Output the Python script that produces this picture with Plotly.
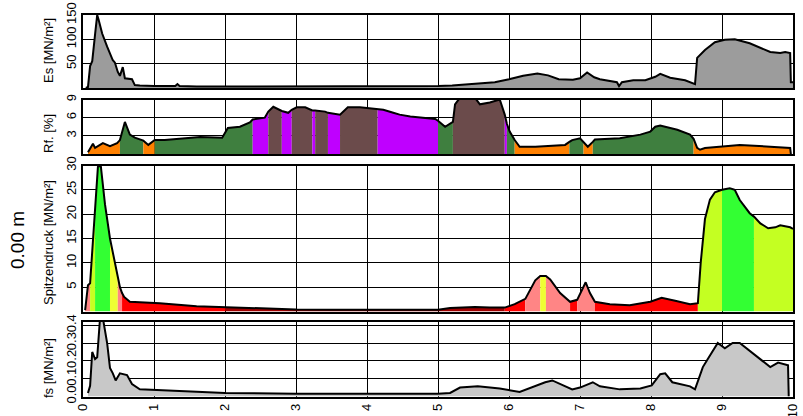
import plotly.graph_objects as go

# ---- sounding data (depth in m) ----
es_depth = [0.04, 0.07, 0.10, 0.13, 0.17, 0.20, 0.22, 0.27, 0.34, 0.42, 0.45, 0.49, 0.52, 0.56, 0.59, 0.69, 0.73,
            0.80, 1.00, 1.30, 1.33, 1.36, 1.60, 2.00, 2.50, 3.00, 3.50, 4.00, 4.50, 5.00, 5.20, 5.50, 5.80, 6.00,
            6.20, 6.40, 6.55, 6.70, 6.90, 7.00, 7.10, 7.20, 7.28, 7.52, 7.55, 7.59, 7.75, 7.92, 8.06, 8.13, 8.27,
            8.48, 8.59, 8.62, 8.65, 8.76, 8.90, 9.04, 9.18, 9.39, 9.68, 9.82, 9.89, 9.96, 9.97, 10.0]
es_value = [0, 2, 45, 55, 110, 150, 140, 112, 85, 57, 52, 33, 25, 43, 20, 18, 6,
            5, 4, 4, 8, 4, 3, 3, 3, 3, 3, 3, 3, 4, 5, 8, 12, 18,
            25, 30, 26, 18, 17, 20, 32, 22, 18, 12, 4, 12, 16, 16, 23, 29, 21,
            16, 10, 8, 62, 78, 94, 99, 100, 92, 74, 72, 74, 72, 12, 12]

rf_depth = [0.07, 0.14, 0.17, 0.24, 0.28, 0.38, 0.48, 0.52, 0.59, 0.66,
            0.73, 0.85, 0.92, 1.01, 1.15, 1.65, 1.96, 2.04, 2.21, 2.35,
            2.39, 2.56, 2.61, 2.68, 2.77, 2.80, 2.89, 2.94, 3.01, 3.13,
            3.23, 3.27, 3.41, 3.45, 3.62, 3.73, 3.90, 4.11, 4.15, 4.23,
            4.37, 4.46, 4.61, 4.75, 4.96, 5.00, 5.10, 5.21, 5.24, 5.31,
            5.52, 5.59, 5.73, 5.87, 5.94, 5.97, 6.01, 6.08, 6.15, 6.37,
            6.58, 6.79, 6.85, 6.89, 7.00, 7.05, 7.11, 7.18, 7.21, 7.56,
            7.85, 7.99, 8.06, 8.13, 8.27, 8.37, 8.55, 8.60, 8.65, 8.69,
            8.76, 9.25, 9.96, 9.97]
rf_value = [0.3, 1.7, 1.0, 1.5, 1.8, 1.3, 1.8, 2.3, 5.3, 3.2,
            2.7, 2.2, 1.5, 2.3, 2.3, 2.8, 2.7, 4.3, 4.5, 5.2,
            5.7, 6.0, 7.0, 7.8, 7.3, 7.1, 6.8, 7.3, 7.7, 7.7,
            7.2, 7.2, 7.0, 6.8, 6.5, 7.7, 7.7, 7.5, 7.4, 7.3,
            6.8, 6.5, 6.2, 6.0, 5.8, 5.5, 4.5, 5.3, 8.2, 9.3,
            9.3, 8.2, 8.5, 9.0, 6.5, 5.0, 3.7, 2.3, 1.2, 1.2,
            1.3, 1.5, 2.0, 2.3, 2.6, 2.0, 1.2, 2.0, 2.4, 2.6,
            3.2, 3.7, 4.5, 4.7, 4.3, 4.0, 3.2, 2.5, 1.0, 0.7,
            1.0, 1.5, 1.0, 0.0]
# soil class of each interval (O sand, G silt, V clay, B organic)
rf_class = ["O", "O", "O", "O", "O", "O", "O", "G", "G", "G",
            "G", "O", "O", "G", "G", "G", "G", "G", "G", "G",
            "V", "V", "B", "B", "B", "V", "V", "B", "B", "B",
            "V", "B", "B", "V", "B", "B", "B", "B", "V", "V",
            "V", "V", "V", "V", "V", "G", "G", "B", "B", "B",
            "B", "B", "B", "B", "V", "G", "G", "O", "O", "O",
            "O", "O", "G", "G", "G", "O", "O", "G", "G", "G",
            "G", "G", "G", "G", "G", "G", "G", "O", "O", "O",
            "O", "O", "O", "O"]

qc_depth = [0.03, 0.07, 0.10, 0.13, 0.17, 0.21, 0.25, 0.31, 0.38, 0.45,
            0.49, 0.52, 0.55, 0.58, 0.66, 0.90, 1.08, 1.60, 2.00, 2.50,
            3.00, 3.50, 4.00, 4.50, 5.00, 5.17, 5.52, 5.73, 5.94, 6.08,
            6.23, 6.37, 6.44, 6.52, 6.58, 6.72, 6.86, 6.96, 7.08, 7.14,
            7.21, 7.42, 7.70, 7.99, 8.15, 8.34, 8.55, 8.66, 8.70, 8.76,
            8.83, 8.90, 9.00, 9.11, 9.18, 9.25, 9.39, 9.45, 9.54, 9.65,
            9.75, 9.82, 9.96, 10.0]
qc_value = [0.3, 5.4, 5.8, 12.5, 19.4, 29.7, 30.0, 22.0, 15.0, 10.0,
            7.0, 5.0, 3.8, 3.0, 2.0, 1.9, 1.7, 1.1, 0.9, 0.6,
            0.4, 0.35, 0.3, 0.3, 0.35, 0.7, 0.9, 0.8, 0.8, 1.5,
            2.6, 6.4, 7.3, 7.3, 6.6, 3.8, 2.0, 2.4, 6.0, 3.8,
            2.0, 1.5, 1.3, 2.0, 2.8, 2.2, 1.5, 1.7, 10.0, 19.0,
            23.0, 24.5, 25.0, 25.3, 25.0, 22.9, 20.2, 19.5, 18.1, 17.1,
            17.3, 17.7, 17.3, 17.0]
# density class of each interval
qc_class = ["P", "P", "L", "L", "G", "G", "G", "G", "Y", "Y",
            "P", "P", "R", "R", "R", "R", "R", "R", "D", "D",
            "D", "D", "D", "D", "D", "D", "D", "D", "R", "R",
            "P", "P", "Y", "P", "P", "P", "R", "P", "P", "P",
            "R", "R", "R", "R", "R", "R", "R", "L", "L", "L",
            "L", "L", "G", "G", "G", "G", "G", "L", "L", "L",
            "L", "L", "L", "L"]

fs_depth = [0.07, 0.10, 0.13, 0.17, 0.20, 0.24, 0.28, 0.34, 0.38, 0.42,
            0.46, 0.52, 0.62, 0.69, 0.80, 1.08, 1.65, 2.00, 3.00, 4.00,
            5.00, 5.17, 5.31, 5.56, 5.87, 6.15, 6.51, 6.61, 6.89, 7.00,
            7.18, 7.28, 7.56, 7.85, 8.01, 8.13, 8.20, 8.30, 8.55, 8.62,
            8.73, 8.80, 8.94, 9.04, 9.15, 9.25, 9.54, 9.68, 9.79, 9.93, 9.94]
fs_value = [0.02, 0.06, 0.25, 0.21, 0.22, 0.44, 0.44, 0.30, 0.16, 0.13,
            0.09, 0.13, 0.12, 0.07, 0.04, 0.035, 0.025, 0.02, 0.015, 0.015,
            0.015, 0.02, 0.05, 0.057, 0.045, 0.025, 0.08, 0.09, 0.04, 0.05,
            0.08, 0.057, 0.04, 0.045, 0.062, 0.125, 0.13, 0.08, 0.057, 0.04,
            0.165, 0.21, 0.30, 0.27, 0.30, 0.30, 0.21, 0.165, 0.19, 0.175, 0.0]

x_ticks = list(range(0, 11))

rf_colors = {"O": "#ff8000", "G": "#3f7f3f", "V": "#bf00ff", "B": "#6b4b4b"}
qc_colors = {"P": "#ff8585", "Y": "#eeff33", "G": "#33ff33", "L": "#c4ff22",
             "R": "#ff0000", "D": "#a00000"}

# ---- page geometry (pixels) ----
W, H = 803, 416
XL, XR = 83, 793
FONT = "Liberation Sans, Arial, sans-serif"


def ydom(top, bot):
    return [1 - bot / H, 1 - top / H]


panels = [
    dict(dom=ydom(15, 88), rng=[0, 150], tv=[50, 100, 150], tt=["50", "100", "150"],
         title="Es [MN/m²]", ty=51),
    dict(dom=ydom(99.5, 154), rng=[0, 9], tv=[3, 6, 9], tt=["3", "6", "9"],
         title="Rf. [%]", ty=134),
    dict(dom=ydom(165.5, 311.5), rng=[0, 30], tv=[5, 10, 15, 20, 25, 30],
         tt=["5", "10", "15", "20", "25", "30"], title="Spitzendruck [MN/m²]", ty=243),
    dict(dom=ydom(322, 396.5), rng=[0, 0.418], tv=[0, 0.1, 0.2, 0.3, 0.4],
         tt=["0.0", "0.1", "0.2", "0.3", "0.4"], title="fs [MN/m²]", ty=368),
]

fig = go.Figure()


def axes(i):
    s = "" if i == 1 else str(i)
    return "x" + s, "y" + s


def add_classified_fill(depth, value, cls, palette, i):
    xa, ya = axes(i)
    n = len(depth)
    k = 0
    while k < n - 1:
        j = k
        while j + 1 < n - 1 and cls[j + 1] == cls[k]:
            j += 1
        fig.add_trace(go.Scatter(x=depth[k:j + 2], y=value[k:j + 2], mode="lines",
                                 line=dict(width=0), fill="tozeroy",
                                 fillcolor=palette[cls[k]], xaxis=xa, yaxis=ya,
                                 hoverinfo="skip", showlegend=False))
        k = j + 1


def add_plain_fill(depth, value, color, i):
    xa, ya = axes(i)
    fig.add_trace(go.Scatter(x=depth, y=value, mode="lines", line=dict(width=0),
                             fill="tozeroy", fillcolor=color, xaxis=xa, yaxis=ya,
                             hoverinfo="skip", showlegend=False))


def add_curve(depth, value, i):
    xa, ya = axes(i)
    fig.add_trace(go.Scatter(x=depth, y=value, mode="lines",
                             line=dict(color="black", width=2), xaxis=xa, yaxis=ya,
                             hoverinfo="skip", showlegend=False))


add_plain_fill(es_depth, es_value, "#9c9c9c", 1)
add_curve(es_depth, es_value, 1)

add_classified_fill(rf_depth, rf_value, rf_class, rf_colors, 2)
add_curve(rf_depth, rf_value, 2)

add_classified_fill(qc_depth, qc_value, qc_class, qc_colors, 3)
add_curve(qc_depth, qc_value, 3)

add_plain_fill(fs_depth, fs_value, "#c8c8c8", 4)
add_curve(fs_depth, fs_value, 4)

layout = dict(width=W, height=H, margin=dict(l=0, r=0, t=0, b=0),
              paper_bgcolor="white", plot_bgcolor="white",
              font=dict(family=FONT, size=13, color="black"), showlegend=False)

for i, p in enumerate(panels, start=1):
    s = "" if i == 1 else str(i)
    layout["xaxis" + s] = dict(
        domain=[XL / W, XR / W], range=[0, 10], anchor="y" + s,
        tickvals=x_ticks, ticktext=[str(t) for t in x_ticks],
        showticklabels=(i == 4), tickangle=-90, ticks="",
        showgrid=True, gridcolor="black", gridwidth=1,
        showline=True, linecolor="black", linewidth=2, mirror=True,
        zeroline=False, automargin=False,
        matches=None if i == 1 else "x",
    )
    layout["yaxis" + s] = dict(
        domain=p["dom"], range=p["rng"], anchor="x" + s,
        tickvals=p["tv"], ticktext=p["tt"], tickangle=-90, ticks="",
        showgrid=True, gridcolor="black", gridwidth=1,
        showline=True, linecolor="black", linewidth=2, mirror=True,
        zeroline=False, automargin=False,
    )

annotations = []
for p in panels:
    annotations.append(dict(text=p["title"], x=48 / W, y=1 - p["ty"] / H, xref="paper",
                            yref="paper", textangle=-90, showarrow=False,
                            xanchor="center", yanchor="middle",
                            font=dict(family=FONT, size=13, color="black")))
annotations.append(dict(text="0.00 m", x=18 / W, y=1 - 240 / H, xref="paper", yref="paper",
                        textangle=-90, showarrow=False, xanchor="center", yanchor="middle",
                        font=dict(family=FONT, size=19, color="black")))
layout["annotations"] = annotations

fig.update_layout(**layout)
fig.write_html("out.html")
